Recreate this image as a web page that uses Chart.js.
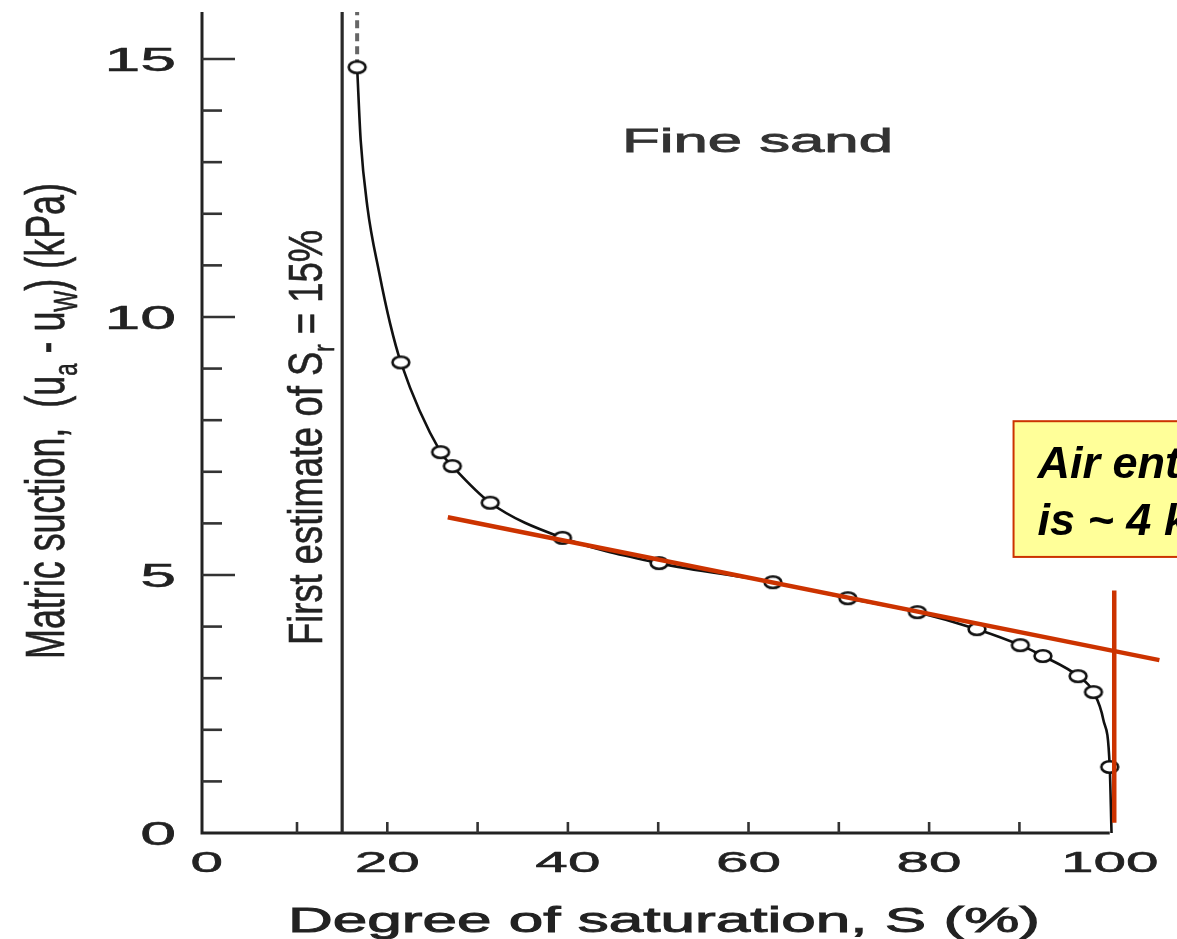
<!DOCTYPE html>
<html>
<head>
<meta charset="utf-8">
<title>Fine sand - matric suction vs degree of saturation</title>
<script src="https://cdn.jsdelivr.net/npm/chart.js@4.4.1/dist/chart.umd.min.js"></script>
<style>
  html, body { margin: 0; padding: 0; background: #fff; }
  #wrap { width: 1177px; height: 939px; }
</style>
</head>
<body>
<div id="wrap"><canvas id="soilChart" width="1177" height="939"></canvas></div>
<script>
// measured points: degree of saturation S (%) and matric suction (kPa)
const saturation = [16.66, 21.5, 25.9, 27.2, 31.4, 39.4, 50.1, 62.7, 71.0, 78.7, 85.3, 90.1, 92.6, 96.5, 98.2, 100.0];
const suction    = [14.84, 9.12, 7.38, 7.11, 6.40, 5.72, 5.23, 4.86, 4.55, 4.28, 3.95, 3.64, 3.43, 3.04, 2.73, 1.28];

// hand-drawn fitting curve (passes through the points)
const curveSaturation = [16.66, 17.05, 17.79, 19.11, 20.3, 21.5, 25.9, 27.2, 31.4, 39.4, 50.1, 62.7, 71.0, 78.7, 85.3, 90.1, 92.6, 96.5, 98.2, 99.3, 100.0, 100.2];
const curveSuction    = [14.84, 13.43, 12.14, 10.85, 9.88, 9.12, 7.38, 7.11, 6.40, 5.72, 5.23, 4.86, 4.55, 4.28, 3.95, 3.64, 3.43, 3.04, 2.73, 2.19, 1.28, 0];

// dashed continuation above the first point
const dashSaturation = [16.66, 16.66];
const dashSuction = [14.84, 15.91];

// first estimate of residual saturation
const residualSaturation = 15;

// red construction lines (air entry)
const slopeSaturation = [26.7, 105.5];
const slopeSuction = [6.12, 3.35];
const entrySaturation = [100.5, 100.5];
const entrySuction = [0.2, 4.7];

// axes
const xTickLabels = [0, 20, 40, 60, 80, 100];
const xTickMarks = [10, 20, 30, 40, 50, 60, 70, 80, 90];
const yTickLabels = [0, 5, 10, 15];
const yTickMarks = [1, 2, 3, 4, 5, 6, 7, 8, 9, 10, 11, 12, 13, 14, 15];

const xMin = -0.52, xMax = 107.45;
const yMin = 0, yMax = 15.91;

function toPoints(xs, ys) {
    return xs.map((v, i) => ({ x: v, y: ys[i] }));
}

// open circles look squashed in the scanned figure
function makeRing() {
    const c = document.createElement('canvas');
    c.width = 22;
    c.height = 16;
    const g = c.getContext('2d');
    g.beginPath();
    g.ellipse(11, 8, 8.4, 5.8, 0, 0, Math.PI * 2);
    g.fillStyle = '#fff';
    g.fill();
    g.lineWidth = 2.6;
    g.strokeStyle = '#111';
    g.stroke();
    return c;
}

// draws text made of parts [text, isSub], optionally rotated and stretched
function paintText(ctx, parts, o) {
    ctx.save();
    const fontFor = sub => `${o.style || 'normal'} ${o.weight || 'normal'} ${sub ? o.size * 0.62 : o.size}px ${o.family}`;
    let total = 0;
    const widths = parts.map(([t, sub]) => {
        ctx.font = fontFor(sub);
        const w = ctx.measureText(t).width;
        total += w;
        return w;
    });
    const k = o.length ? o.length / total : (o.stretch || 1);
    let cx = 0;
    if (o.align === 'center') cx = -total / 2;
    if (o.align === 'right') cx = -total;
    ctx.translate(o.x, o.y);
    if (o.angle) ctx.rotate(o.angle);
    ctx.scale(k, 1);
    ctx.fillStyle = o.color || '#222';
    ctx.strokeStyle = o.color || '#222';
    ctx.lineWidth = o.bold || 0;
    ctx.textBaseline = 'alphabetic';
    ctx.textAlign = 'left';
    parts.forEach(([t, sub], i) => {
        ctx.font = fontFor(sub);
        const dy = sub ? o.size * 0.24 : 0;
        ctx.fillText(t, cx, dy);
        if (o.bold) ctx.strokeText(t, cx, dy);
        cx += widths[i];
    });
    ctx.restore();
}

const paperPlugin = {
    id: 'paperAxes',
    beforeDatasetsDraw(chart) {
        const { ctx, chartArea, scales: { x, y } } = chart;
        const left = chartArea.left;
        const base = y.getPixelForValue(0);

        ctx.save();
        ctx.strokeStyle = '#222';
        ctx.lineWidth = 3;
        ctx.beginPath();
        ctx.moveTo(left, y.getPixelForValue(yMax));
        ctx.lineTo(left, base);
        ctx.lineTo(x.getPixelForValue(100), base);
        ctx.stroke();

        // inward ticks
        ctx.lineWidth = 2.6;
        ctx.strokeStyle = '#333';
        yTickMarks.forEach(v => {
            const p = y.getPixelForValue(v);
            const len = v % 5 === 0 ? 33 : 20;
            ctx.beginPath();
            ctx.moveTo(left, p);
            ctx.lineTo(left + len, p);
            ctx.stroke();
        });
        xTickMarks.forEach(v => {
            const p = x.getPixelForValue(v);
            ctx.beginPath();
            ctx.moveTo(p, base);
            ctx.lineTo(p, base - 11);
            ctx.stroke();
        });
        ctx.restore();

        const tickFont = "'Liberation Sans', Arial, sans-serif";
        yTickLabels.forEach(v => {
            paintText(ctx, [[String(v)]], {
                x: 176, y: y.getPixelForValue(v) + 12, size: 33, stretch: 1.95,
                family: tickFont, align: 'right', color: '#222', bold: 0.5
            });
        });
        xTickLabels.forEach(v => {
            paintText(ctx, [[String(v)]], {
                x: x.getPixelForValue(v), y: 872, size: 30, stretch: 1.95,
                family: tickFont, align: 'center', color: '#222', bold: 0.5
            });
        });

        // titles
        paintText(ctx, [['Degree of saturation, S (%)']], {
            x: 288, y: 932, size: 35, length: 752, family: tickFont, color: '#222', bold: 0.9
        });
        paintText(ctx, [['Matric suction,  (u'], ['a', true], [' - u'], ['W', true], [') (kPa)']], {
            x: 64, y: 659, angle: -Math.PI / 2, size: 55, length: 476, family: tickFont, color: '#222', bold: 0.6
        });
        paintText(ctx, [['First estimate of S'], ['r', true], [' = 15%']], {
            x: 322, y: 645, angle: -Math.PI / 2, size: 49, length: 415, family: tickFont, color: '#222', bold: 0.6
        });
        paintText(ctx, [['Fine sand']], {
            x: 622, y: 152, size: 33.5, length: 271, family: tickFont, color: '#333', bold: 0.8
        });
    },
    afterDatasetsDraw(chart) {
        const { ctx, scales: { x, y } } = chart;
        const bx = x.getPixelForValue(89.35);
        const by = y.getPixelForValue(7.98);
        const bh = y.getPixelForValue(5.35) - by;
        ctx.save();
        ctx.fillStyle = '#ffff99';
        ctx.fillRect(bx, by, 400, bh);
        ctx.strokeStyle = '#cc3300';
        ctx.lineWidth = 2;
        ctx.strokeRect(bx, by, 400, bh);
        ctx.restore();
        const boxFont = "'Liberation Sans', Arial, sans-serif";
        paintText(ctx, [['Air entry value']], {
            x: bx + 24, y: by + 57, size: 45, style: 'italic', weight: 'bold', family: boxFont, color: '#000'
        });
        paintText(ctx, [['is ~ 4 kPa']], {
            x: bx + 24, y: by + 114, size: 45, style: 'italic', weight: 'bold', family: boxFont, color: '#000'
        });
    }
};

new Chart(document.getElementById('soilChart').getContext('2d'), {
    type: 'scatter',
    data: {
        datasets: [
            {
                label: 'Air entry slope',
                data: toPoints(slopeSaturation, slopeSuction),
                showLine: true,
                borderColor: '#cc3300',
                borderWidth: 4.5,
                pointRadius: 0
            },
            {
                label: 'Air entry vertical',
                data: toPoints(entrySaturation, entrySuction),
                showLine: true,
                borderColor: '#cc3300',
                borderWidth: 4.5,
                pointRadius: 0
            },
            {
                label: 'Measured',
                data: toPoints(saturation, suction),
                showLine: false,
                pointStyle: makeRing(),
                pointRadius: 6
            },
            {
                label: 'Curve',
                data: toPoints(curveSaturation, curveSuction),
                showLine: true,
                borderColor: '#111',
                borderWidth: 2.6,
                pointRadius: 0,
                cubicInterpolationMode: 'monotone'
            },
            {
                label: 'Curve continuation',
                data: toPoints(dashSaturation, dashSuction),
                showLine: true,
                borderColor: '#666',
                borderWidth: 4,
                borderDash: [8, 5],
                pointRadius: 0
            },
            {
                label: 'Residual saturation',
                data: toPoints([residualSaturation, residualSaturation], [yMin, yMax]),
                showLine: true,
                borderColor: '#2a2a2a',
                borderWidth: 3.2,
                pointRadius: 0
            }
        ]
    },
    options: {
        responsive: false,
        animation: false,
        events: [],
        layout: { autoPadding: false, padding: { left: 202, top: 12, right: 0, bottom: 106 } },
        scales: {
            x: { type: 'linear', min: xMin, max: xMax, display: false },
            y: { type: 'linear', min: yMin, max: yMax, display: false }
        },
        plugins: {
            legend: { display: false },
            tooltip: { enabled: false }
        }
    },
    plugins: [paperPlugin]
});
</script>
</body>
</html>
